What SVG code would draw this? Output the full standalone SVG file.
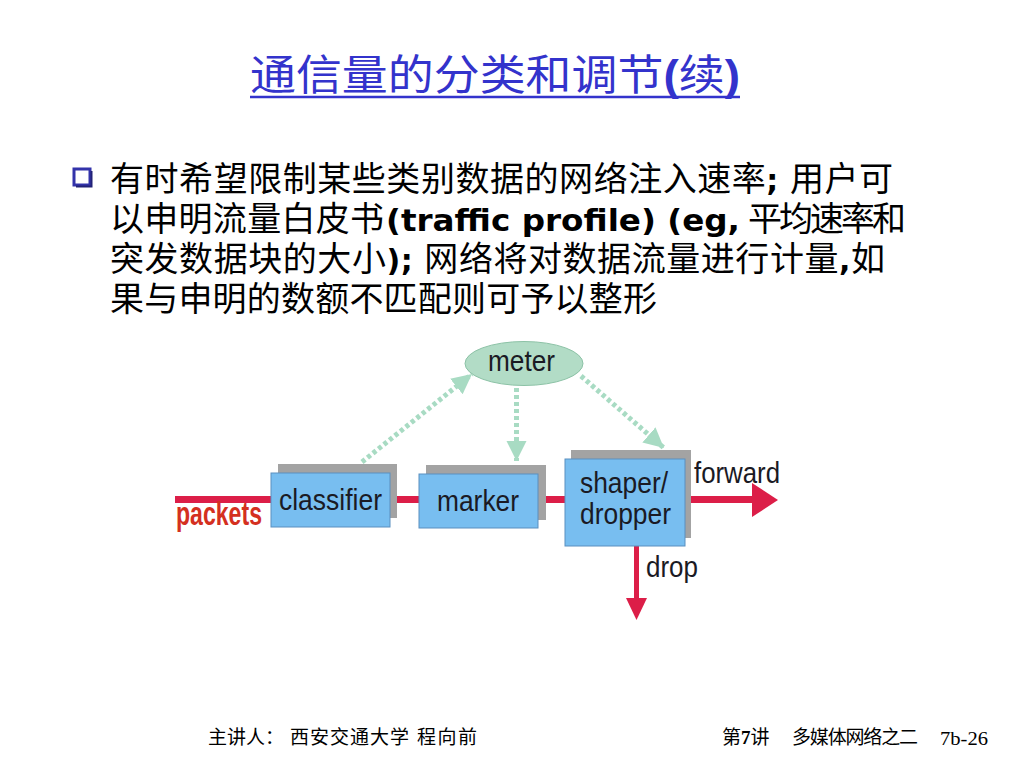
<svg xmlns="http://www.w3.org/2000/svg" width="1024" height="768" viewBox="0 0 1024 768">
<style>
.cjk{font-family:"Noto Sans CJK SC","Liberation Sans",sans-serif;fill:#000}
.lat{font-family:"DejaVu Sans","Liberation Sans",sans-serif;font-weight:bold}
.lbl{font-family:"Liberation Sans","DejaVu Sans",sans-serif;font-size:29px;fill:#1a1a24}
.box{fill:#78bef0;stroke:#5b8fbf;stroke-width:1}
.shadow{fill:#a3a3a3}
.dot{stroke:#a8dbc3;stroke-width:5;stroke-dasharray:4 3;fill:none}
.red{stroke:#dc1e48;fill:none}
.redfill{fill:#dc1e48}
.ft{font-size:19px}
</style>
<defs>
<marker id="ah" markerUnits="userSpaceOnUse" markerWidth="22" markerHeight="22" refX="20" refY="10" orient="auto" viewBox="0 0 22 20">
<path d="M0,0 L20,10 L0,20 Z" fill="#a8dbc3"/>
</marker>
</defs>
<rect width="1024" height="768" fill="#fff"/>

<g id="title">
<text x="495" y="90" text-anchor="middle" class="cjk" style="fill:#3333cc;font-size:42px" textLength="490" lengthAdjust="spacingAndGlyphs">通信量的分类和调节<tspan style="font-family:'Liberation Sans',sans-serif;font-weight:bold">(</tspan>续<tspan style="font-family:'Liberation Sans',sans-serif;font-weight:bold">)</tspan></text>
<line x1="250" y1="97" x2="740" y2="97" stroke="#3333cc" stroke-width="2.5"/>
</g>

<g id="bullet">
<rect x="74" y="169" width="16" height="16" fill="none" stroke="#3333aa" stroke-width="3"/>
<path d="M76,186.5 L91.5,186.5 L91.5,171" fill="none" stroke="#222277" stroke-width="2"/>
</g>

<g id="body" style="font-size:34px">
<text x="110" y="191" class="cjk" textLength="783" lengthAdjust="spacing">有时希望限制某些类别数据的网络注入速率<tspan class="lat" style="font-size:30px">; </tspan>用户可</text>
<text x="110" y="231" class="cjk" textLength="274" lengthAdjust="spacing">以申明流量白皮书</text>
<text x="386" y="231" class="lat" style="font-size:30px" textLength="354" lengthAdjust="spacingAndGlyphs">(traffic profile) (eg,</text>
<text x="748" y="231" class="cjk" textLength="158" lengthAdjust="spacing">平均速率和</text>
<text x="110" y="271" class="cjk" textLength="775" lengthAdjust="spacing">突发数据块的大小<tspan class="lat" style="font-size:30px">); </tspan>网络将对数据流量进行计量<tspan class="lat" style="font-size:30px">,</tspan>如</text>
<text x="110" y="311" class="cjk" textLength="547" lengthAdjust="spacing">果与申明的数额不匹配则可予以整形</text>
</g>

<g id="connectors">
<line class="red" x1="175" y1="499.5" x2="756" y2="499.5" stroke-width="7"/>
<polygon class="redfill" points="752,483 778,500 752,517"/>
<line class="red" x1="636.5" y1="546" x2="636.5" y2="600" stroke-width="5"/>
<polygon class="redfill" points="626,598 647,598 636.5,620"/>
<line class="dot" x1="362" y1="462" x2="472" y2="374" marker-end="url(#ah)"/>
<line class="dot" x1="516.5" y1="388" x2="516.5" y2="461" marker-end="url(#ah)"/>
<line class="dot" x1="581" y1="376" x2="664" y2="448" marker-end="url(#ah)"/>
</g>

<g id="packets">
<text x="176" y="525" style="font-family:'Liberation Sans',sans-serif;font-weight:bold;font-size:33px;fill:#d4301f" textLength="86" lengthAdjust="spacingAndGlyphs">packets</text>
</g>

<g id="classifier">
<rect class="shadow" x="278" y="464" width="119" height="54"/>
<rect class="box" x="271" y="473" width="119" height="54"/>
<text class="lbl" x="279" y="510" textLength="103" lengthAdjust="spacingAndGlyphs">classifier</text>
</g>

<g id="marker">
<rect class="shadow" x="426" y="465" width="120" height="55"/>
<rect class="box" x="419" y="474" width="119" height="54"/>
<text class="lbl" x="437" y="511" textLength="82" lengthAdjust="spacingAndGlyphs">marker</text>
</g>

<g id="shaper">
<rect class="shadow" x="571" y="450" width="120" height="88"/>
<rect class="box" x="565" y="459" width="120" height="87"/>
<text class="lbl" x="580" y="493" textLength="88" lengthAdjust="spacingAndGlyphs">shaper/</text>
<text class="lbl" x="580" y="524" textLength="91" lengthAdjust="spacingAndGlyphs">dropper</text>
</g>

<g id="meter">
<ellipse cx="524" cy="363.5" rx="59" ry="22" fill="#b2dcc6" stroke="#8cc2a6" stroke-width="1"/>
<text class="lbl" x="488" y="371" textLength="67" lengthAdjust="spacingAndGlyphs">meter</text>
</g>

<g id="labels">
<text class="lbl" x="694" y="483" textLength="86" lengthAdjust="spacingAndGlyphs">forward</text>
<text class="lbl" x="646" y="577" textLength="52" lengthAdjust="spacingAndGlyphs">drop</text>
</g>

<g id="footer">
<text x="208" y="744" class="cjk ft">主讲人：</text>
<text x="290" y="744" class="cjk ft" textLength="119" lengthAdjust="spacing">西安交通大学</text>
<text x="417" y="744" class="cjk ft" textLength="60" lengthAdjust="spacing">程向前</text>
<text x="722" y="744" class="cjk ft">第<tspan style="font-family:'Liberation Serif',serif;font-weight:bold">7</tspan>讲</text>
<text x="792" y="744" class="cjk ft" textLength="126" lengthAdjust="spacing">多媒体网络之二</text>
<text x="940" y="745" style="font-family:'Liberation Serif',serif;font-size:19px" textLength="48" lengthAdjust="spacingAndGlyphs">7b-26</text>
</g>
</svg>
